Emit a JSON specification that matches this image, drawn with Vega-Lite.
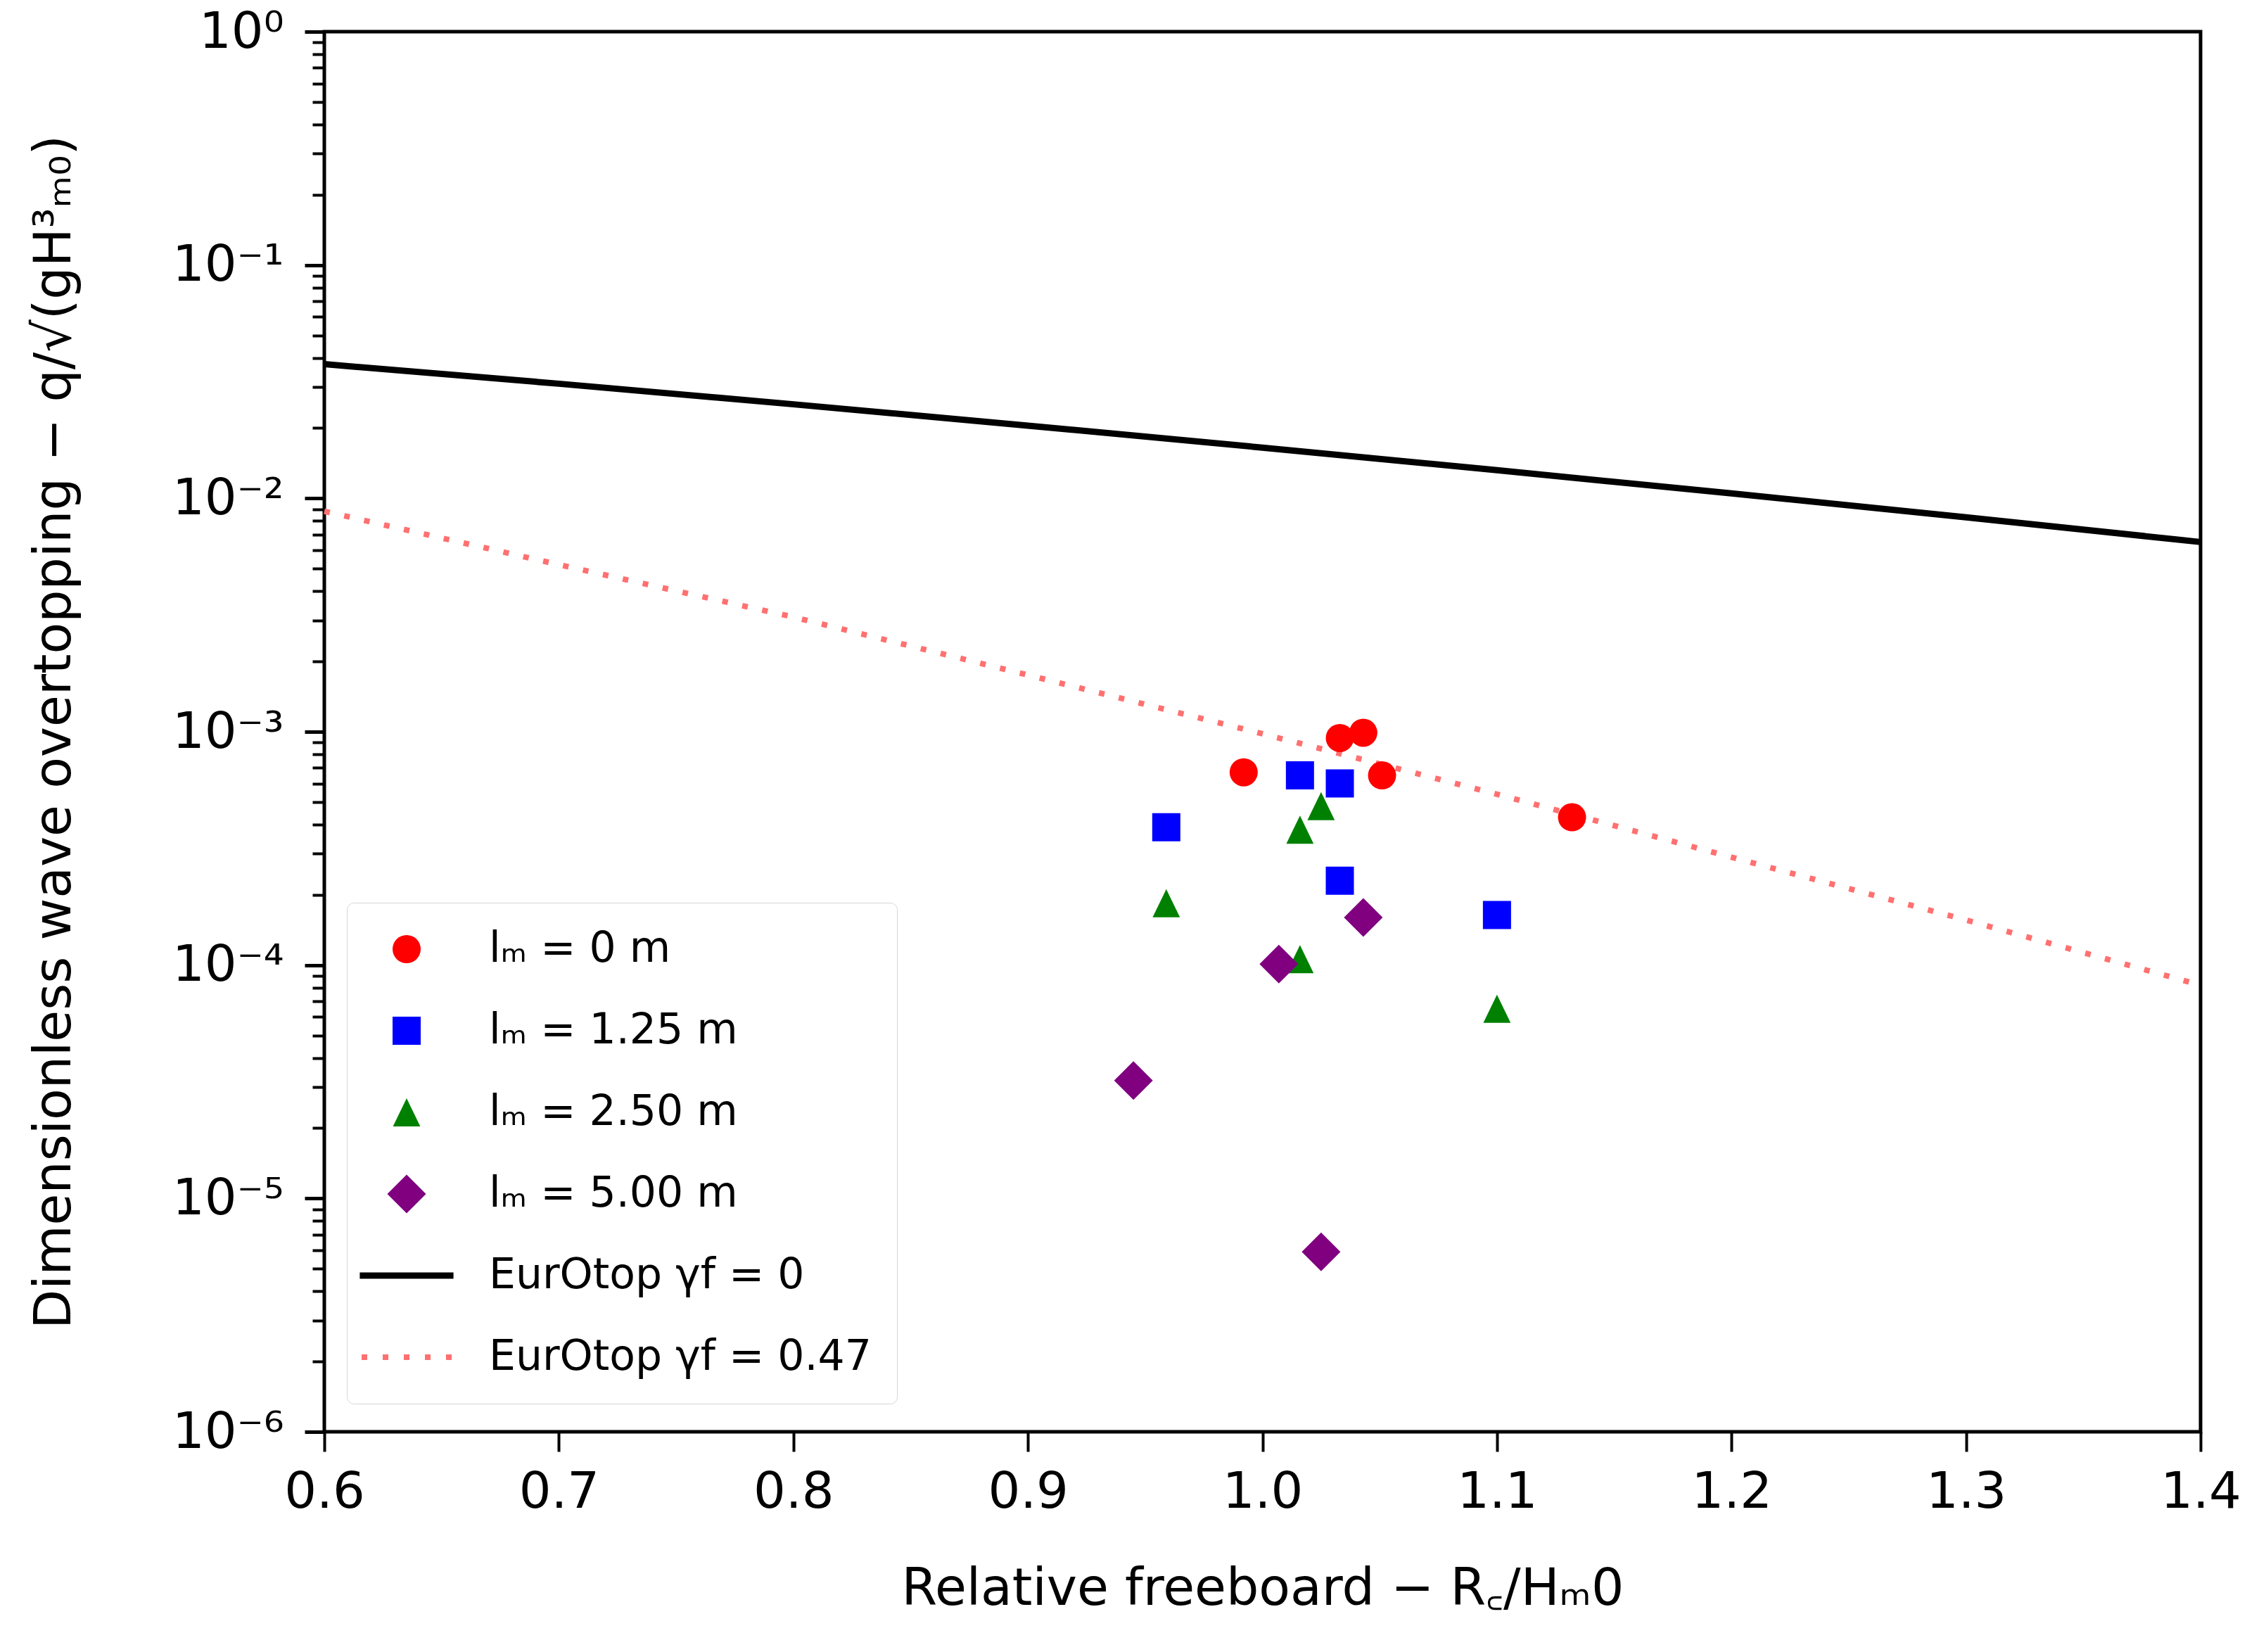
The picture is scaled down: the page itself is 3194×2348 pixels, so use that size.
{
  "$schema": "https://vega.github.io/schema/vega-lite/v6.json",
  "description": "Dimensionless wave overtopping vs relative freeboard",
  "width": 2667,
  "height": 1990,
  "autosize": "none",
  "padding": {"left": 461, "top": 45, "right": 66, "bottom": 313},
  "background": "white",
  "datasets": {
    "points": [
      {"series": "lₘ = 0 m", "x": 0.992, "q": 0.00067},
      {"series": "lₘ = 0 m", "x": 1.033, "q": 0.00094},
      {"series": "lₘ = 0 m", "x": 1.043, "q": 0.00099},
      {"series": "lₘ = 0 m", "x": 1.051, "q": 0.00065},
      {"series": "lₘ = 0 m", "x": 1.132, "q": 0.00043},
      {"series": "lₘ = 1.25 m", "x": 0.959, "q": 0.00039},
      {"series": "lₘ = 1.25 m", "x": 1.016, "q": 0.00065},
      {"series": "lₘ = 1.25 m", "x": 1.033, "q": 0.0006},
      {"series": "lₘ = 1.25 m", "x": 1.033, "q": 0.00023},
      {"series": "lₘ = 1.25 m", "x": 1.1, "q": 0.000164},
      {"series": "lₘ = 2.50 m", "x": 0.959, "q": 0.000184},
      {"series": "lₘ = 2.50 m", "x": 1.016, "q": 0.00038},
      {"series": "lₘ = 2.50 m", "x": 1.025, "q": 0.00048},
      {"series": "lₘ = 2.50 m", "x": 1.016, "q": 0.000106},
      {"series": "lₘ = 2.50 m", "x": 1.1, "q": 0.000065},
      {"series": "lₘ = 5.00 m", "x": 0.945, "q": 0.000032},
      {"series": "lₘ = 5.00 m", "x": 1.007, "q": 0.000101},
      {"series": "lₘ = 5.00 m", "x": 1.043, "q": 0.00016},
      {"series": "lₘ = 5.00 m", "x": 1.025, "q": 0.0000059}
    ],
    "curves": [
      {"series": "EurOtop γf = 0", "x": 0.6, "q": 0.0376},
      {"series": "EurOtop γf = 0", "x": 0.7, "q": 0.031},
      {"series": "EurOtop γf = 0", "x": 0.8, "q": 0.0253},
      {"series": "EurOtop γf = 0", "x": 0.9, "q": 0.0205},
      {"series": "EurOtop γf = 0", "x": 1.0, "q": 0.0165},
      {"series": "EurOtop γf = 0", "x": 1.1, "q": 0.0132},
      {"series": "EurOtop γf = 0", "x": 1.2, "q": 0.0105},
      {"series": "EurOtop γf = 0", "x": 1.3, "q": 0.0083},
      {"series": "EurOtop γf = 0", "x": 1.4, "q": 0.0065},
      {"series": "EurOtop γf = 0.47", "x": 0.6, "q": 0.0088},
      {"series": "EurOtop γf = 0.47", "x": 0.7, "q": 0.0052},
      {"series": "EurOtop γf = 0.47", "x": 0.8, "q": 0.0031},
      {"series": "EurOtop γf = 0.47", "x": 0.9, "q": 0.00175},
      {"series": "EurOtop γf = 0.47", "x": 1.0, "q": 0.00098},
      {"series": "EurOtop γf = 0.47", "x": 1.1, "q": 0.00054},
      {"series": "EurOtop γf = 0.47", "x": 1.2, "q": 0.00029},
      {"series": "EurOtop γf = 0.47", "x": 1.3, "q": 0.000156},
      {"series": "EurOtop γf = 0.47", "x": 1.4, "q": 0.000082}
    ]
  },
  "encoding": {
    "x": {
      "field": "x", "type": "quantitative",
      "scale": {"domain": [0.6, 1.4], "nice": false, "zero": false},
      "axis": {
        "title": "Relative freeboard  − R꜀/Hₘ0",
        "values": [0.6, 0.7, 0.8, 0.9, 1.0, 1.1, 1.2, 1.3, 1.4],
        "format": ".1f",
        "tickSize": 28, "tickWidth": 4,
        "labelPadding": 22,
        "titlePadding": 66
      }
    },
    "y": {
      "field": "q", "type": "quantitative",
      "scale": {"type": "log", "domain": [0.000001, 1], "nice": false},
      "axis": {
        "title": "Dimensionless wave overtopping  − q/√(gH³ₘ₀)",
        "values": [
          0.000001, 0.000002, 0.000003, 0.000004, 0.000005, 0.000006, 0.000007, 0.000008, 0.000009,
          0.00001, 0.00002, 0.00003, 0.00004, 0.00005, 0.00006, 0.00007, 0.00008, 0.00009,
          0.0001, 0.0002, 0.0003, 0.0004, 0.0005, 0.0006, 0.0007, 0.0008, 0.0009,
          0.001, 0.002, 0.003, 0.004, 0.005, 0.006, 0.007, 0.008, 0.009,
          0.01, 0.02, 0.03, 0.04, 0.05, 0.06, 0.07, 0.08, 0.09,
          0.1, 0.2, 0.3, 0.4, 0.5, 0.6, 0.7, 0.8, 0.9, 1
        ],
        "labelExpr": "abs(datum.value / pow(10, round(log(datum.value) / LN10)) - 1) < 0.000001 ? (round(log(datum.value) / LN10) == 0 ? '10⁰' : '10⁻' + substring('¹²³⁴⁵⁶', -round(log(datum.value) / LN10) - 1, -round(log(datum.value) / LN10))) : ''",
        "tickSize": {"condition": {"test": "abs(datum.value / pow(10, round(log(datum.value) / LN10)) - 1) < 0.000001", "value": 28}, "value": 17},
        "tickWidth": {"condition": {"test": "abs(datum.value / pow(10, round(log(datum.value) / LN10)) - 1) < 0.000001", "value": 5}, "value": 4},
        "labelOverlap": false,
        "labelPadding": 30,
        "titlePadding": 147
      }
    }
  },
  "layer": [
    {
      "data": {"name": "curves"},
      "transform": [{"filter": "datum.series == 'EurOtop γf = 0'"}],
      "mark": {"type": "line", "color": "#000000", "strokeWidth": 9},
      "encoding": {}
    },
    {
      "data": {"name": "curves"},
      "transform": [{"filter": "datum.series == 'EurOtop γf = 0.47'"}],
      "mark": {"type": "line", "color": "#ff7070", "strokeWidth": 8, "strokeDash": [8, 21]},
      "encoding": {}
    },
    {
      "data": {"name": "points"},
      "mark": {"type": "point", "filled": true, "opacity": 1, "size": 1600},
      "encoding": {
        "color": {
          "field": "series", "type": "nominal",
          "scale": {
            "domain": ["lₘ = 0 m", "lₘ = 1.25 m", "lₘ = 2.50 m", "lₘ = 5.00 m", "EurOtop γf = 0", "EurOtop γf = 0.47"],
            "range": ["#ff0000", "#0000ff", "#008000", "#800080", "#000000", "#ff7070"]
          },
          "legend": {
            "title": null,
            "orient": "none",
            "legendX": 32,
            "legendY": 1238,
            "padding": 36,
            "symbolOffset": 19,
            "symbolSize": 1600,
            "symbolStrokeWidth": 0,
            "labelOffset": 87,
            "rowPadding": 56,
            "labelFontSize": 60,
            "labelFont": "DejaVu Sans",
            "labelColor": "#000000",
            "labelLimit": 1000,
            "fillColor": "rgba(255,255,255,0.8)",
            "strokeColor": "#d6d6d6",
            "cornerRadius": 10
          }
        },
        "shape": {
          "field": "series", "type": "nominal",
          "scale": {
            "domain": ["lₘ = 0 m", "lₘ = 1.25 m", "lₘ = 2.50 m", "lₘ = 5.00 m", "EurOtop γf = 0", "EurOtop γf = 0.47"],
            "range": [
              "circle",
              "square",
              "M0,-1L0.97,1L-0.97,1Z",
              "M-1.375,0L0,-1.375L1.375,0L0,1.375Z",
              "M-3.33,-0.23H3.33V0.23H-3.33Z",
              "M-3.2,-0.2H-2.8V0.2H-3.2Z M-1.7,-0.2H-1.3V0.2H-1.7Z M-0.2,-0.2H0.2V0.2H-0.2Z M1.3,-0.2H1.7V0.2H1.3Z M2.8,-0.2H3.2V0.2H2.8Z"
            ]
          }
        }
      }
    }
  ],
  "config": {
    "view": {"stroke": "#000000", "strokeWidth": 5},
    "axis": {
      "grid": false,
      "domain": false,
      "tickColor": "#000000",
      "labelColor": "#000000",
      "titleColor": "#000000",
      "labelFont": "DejaVu Sans",
      "titleFont": "DejaVu Sans",
      "labelFontSize": 72,
      "titleFontSize": 73,
      "titleFontWeight": "normal",
      "labelFlush": false
    }
  }
}
